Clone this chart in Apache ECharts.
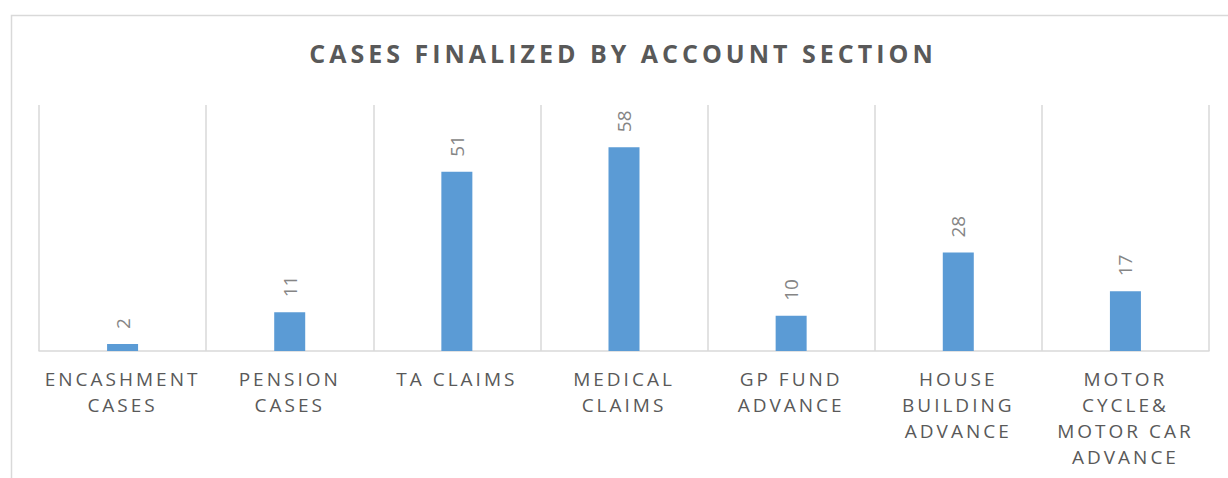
<!DOCTYPE html>
<html>
<head>
<meta charset="utf-8">
<script src="https://cdn.jsdelivr.net/npm/echarts@6/dist/echarts.min.js"></script>
<style>
  html, body { margin: 0; padding: 0; background: #fff; }
  #chart { width: 1228px; height: 478px; }
</style>
</head>
<body>
<div id="chart"></div>
<script>
var TITLE = 'CASES FINALIZED BY ACCOUNT SECTION';
var categories = ['ENCASHMENT CASES', 'PENSION CASES', 'TA CLAIMS', 'MEDICAL CLAIMS',
  'GP FUND ADVANCE', 'HOUSE BUILDING ADVANCE', 'MOTOR CYCLE& MOTOR CAR ADVANCE'];
var cases = [2, 11, 51, 58, 10, 28, 17];

(function() {
  var FONT = '"Open Sans", sans-serif';

  // greedy word wrap, ~10 chars per line like the original
  function wrap(name) {
    var words = name.split(' ');
    var lines = [];
    var cur = '';
    words.forEach(function(w) {
      if (cur && (cur + ' ' + w).length > 10) {
        lines.push(cur);
        cur = w;
      } else {
        cur = cur ? cur + ' ' + w : w;
      }
    });
    if (cur) lines.push(cur);
    return lines.join('\n');
  }

  var myChart = echarts.init(document.getElementById('chart'), null, { renderer: 'svg' });
  var option = {
    animation: false,
    title: {
      text: TITLE,
      left: 623,
      top: 40,
      padding: 0,
      textAlign: 'center',
      textStyle: { color: '#595959', fontFamily: FONT, fontWeight: 'bold', fontSize: 25 }
    },
    graphic: [{
      type: 'rect',
      left: 9,
      top: 13,
      shape: { width: 1400, height: 600 },
      style: { fill: 'none', stroke: '#d9d9d9', lineWidth: 1.5 },
      silent: true
    }],
    grid: { left: 39, right: 19, top: 105, bottom: 127 },
    xAxis: {
      type: 'category',
      data: categories,
      axisTick: { show: false },
      axisLine: { lineStyle: { color: '#d9d9d9', width: 1.5 } },
      splitLine: { show: true, lineStyle: { color: '#d9d9d9', width: 1.5 } },
      axisLabel: {
        interval: 0,
        margin: 15,
        color: '#595959',
        fontFamily: FONT,
        fontSize: 19,
        lineHeight: 26,
        formatter: wrap
      }
    },
    yAxis: {
      type: 'value',
      min: 0,
      max: 70,
      show: false,
      splitLine: { show: false }
    },
    series: [{
      type: 'bar',
      data: cases,
      barWidth: 31,
      itemStyle: { color: '#5b9bd5' },
      label: {
        show: true,
        position: 'top',
        distance: 15,
        rotate: 90,
        align: 'left',
        verticalAlign: 'middle',
        color: '#858585',
        fontFamily: FONT,
        fontSize: 19
      }
    }]
  };
  myChart.setOption(option);

  // spaced-out caps like the office chart
  function spaceText() {
    var texts = document.querySelectorAll('#chart text');
    Array.prototype.forEach.call(texts, function(t) {
      var txt = t.textContent;
      if (/^\d+$/.test(txt)) {
        t.style.letterSpacing = '0px';
      } else if (txt === TITLE) {
        t.style.letterSpacing = '4px';
      } else {
        t.style.letterSpacing = '3px';
      }
    });
  }
  spaceText();
  myChart.on('finished', spaceText);
})();
</script>
</body>
</html>
